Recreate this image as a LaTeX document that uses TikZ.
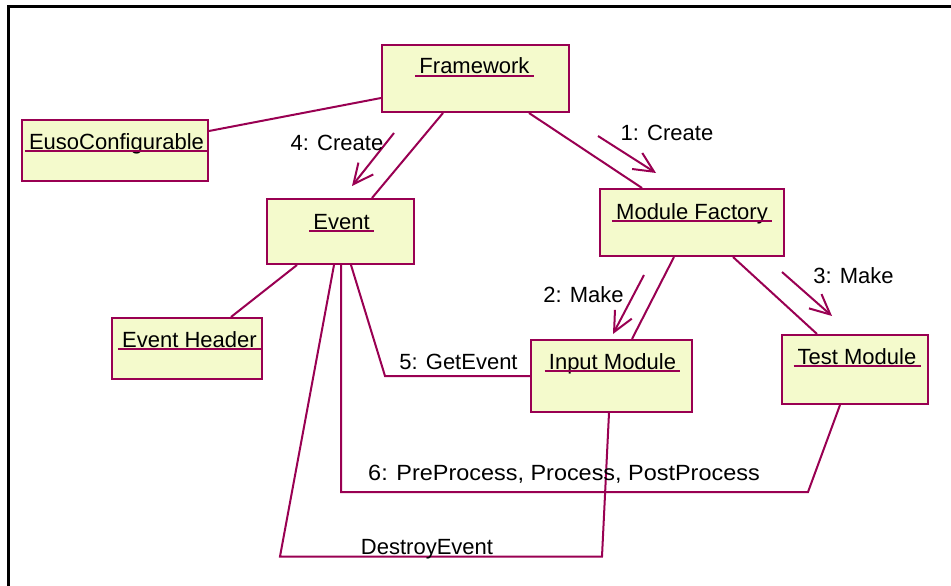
\documentclass[tikz,border=0pt]{standalone}
\usepackage{fontspec}
\setmainfont{Liberation Sans}
\usetikzlibrary{arrows.meta,calc}
\definecolor{umlline}{RGB}{153,0,82}
\definecolor{umlfill}{RGB}{244,250,204}
\begin{document}
\begin{tikzpicture}[x=1pt,y=-1pt,
  box/.style={draw=umlline,fill=umlfill,line width=2pt,inner sep=0pt,rectangle},
  lbl/.style={inner sep=0pt,anchor=base,font=\fontsize{22}{26}\selectfont},
  ul/.style={draw=umlline,line width=2pt},
  conn/.style={draw=umlline,line width=2pt},
  msg/.style={draw=umlline,line width=2pt,-{Straight Barb[length=20pt,width=19pt]}},
  frame/.style={draw=black,line width=3pt}]
\useasboundingbox (0,0) rectangle (951,586);
% frame
\coordinate (tl) at (8.5,6.5);
\coordinate (tr) at (951,6.5);
\coordinate (bl) at (8.5,586);
\draw[frame] (tr) -- (tl) -- (bl);

% class boxes
\node[box,minimum width=187pt,minimum height=67pt] (fw) at (475.5,78.5) {};
\node[box,minimum width=186pt,minimum height=61pt] (eu) at (115,150.5) {};
\node[box,minimum width=147pt,minimum height=65pt] (ev) at (340.5,231.5) {};
\node[box,minimum width=184pt,minimum height=67pt] (mf) at (692,222.5) {};
\node[box,minimum width=161pt,minimum height=72pt] (im) at (611.5,376) {};
\node[box,minimum width=146pt,minimum height=69pt] (tm) at (855,369.5) {};
\node[box,minimum width=150pt,minimum height=61pt] (eh) at (187,348.5) {};

% class names
\node[lbl] (fwt) at (474.5,74) {Framework};
\node[lbl] (eut) at (116.5,149) {EusoConfigurable};
\node[lbl] (evt) at (341.5,229) {Event};
\node[lbl] (mft) at (692,219) {Module Factory};
\node[lbl] (imt) at (612.5,369) {Input Module};
\node[lbl] (tmt) at (857,364) {Test Module};
\node[lbl] (eht) at (189.5,347) {Event Header};
\foreach \t in {fwt,eut,evt,mft,imt,tmt,eht}{
  \draw[ul] ([xshift=-4pt,yshift=-2pt]\t.base west) -- ([xshift=4pt,yshift=-2pt]\t.base east);
}

% links
\draw[conn] ([yshift=-19.5pt]fw.west) -- ([yshift=19.5pt]eu.east);
\draw[conn] ([xshift=-32.5pt]fw.south) -- ([xshift=31.5pt]ev.north);
\draw[conn] ([xshift=53.5pt]fw.south) -- ([xshift=-50pt]mf.north);
\draw[conn] ([xshift=-18pt]mf.south) -- ([xshift=20.5pt]im.north);
\draw[conn] ([xshift=41pt]mf.south) -- ([xshift=-38pt]tm.north);
\draw[conn] ([xshift=-43.5pt]ev.south) -- ([xshift=44pt]eh.north);

\coordinate (g1) at (385,376);
\draw[conn] ([xshift=10.5pt]ev.south) -- (g1) -- (im.west);
\coordinate (p1) at (341,492);
\coordinate (p2) at (808,492);
\draw[conn] ([xshift=0.5pt]ev.south) -- (p1) -- (p2) -- ([xshift=-15pt]tm.south);
\coordinate (d1) at (280,556.5);
\coordinate (d2) at (602,556.5);
\draw[conn] ([xshift=-6.5pt]ev.south) -- (d1) -- (d2) -- ([xshift=-2.5pt]im.south);

% message arrows
\coordinate (m4a) at (394,133); \coordinate (m4b) at (352,186);
\coordinate (m1a) at (598,136); \coordinate (m1b) at (656,173);
\coordinate (m2a) at (644,275); \coordinate (m2b) at (613,334);
\coordinate (m3a) at (782,272); \coordinate (m3b) at (832,316);
\draw[msg] (m4a) -- (m4b);
\draw[msg] (m1a) -- (m1b);
\draw[msg] (m2a) -- (m2b);
\draw[msg] (m3a) -- (m3b);

% message labels
\node[lbl] (l4) at (337,150) {4: Create};
\node[lbl] (l1) at (667,140) {1: Create};
\node[lbl] (l2) at (583.5,302) {2: Make};
\node[lbl] (l3) at (853.5,283) {3: Make};
\node[lbl] (l5) at (458.5,369) {5: GetEvent};
\node[lbl] (l6) at (564,480) {\scalebox{1.065}[1]{6: PreProcess, Process, PostProcess}};
\node[lbl] (l7) at (427,554) {DestroyEvent};
\end{tikzpicture}
\end{document}
